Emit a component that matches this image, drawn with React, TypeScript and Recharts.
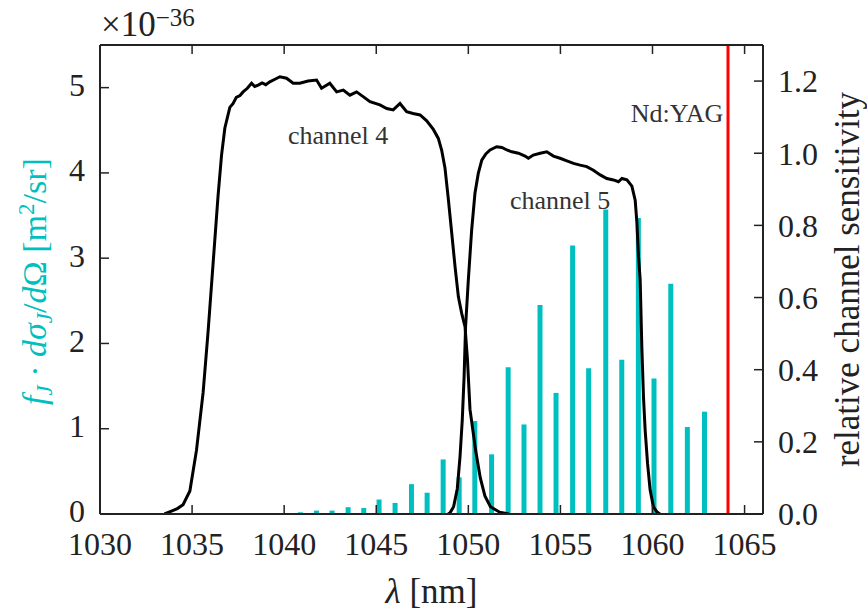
import React from 'react';
import {
  ComposedChart,
  Bar,
  Line,
  XAxis,
  YAxis,
  ReferenceLine,
  ReferenceDot,
  Label,
} from 'recharts';

// rotational Raman lines (anti-Stokes side), strength in units of 1e-36 m^2/sr
const LINE_WAVELENGTHS = [
  1040.89, 1041.76, 1042.61, 1043.48, 1044.33, 1045.16, 1046.03, 1046.92, 1047.77,
  1048.64, 1049.51, 1050.36, 1051.27, 1052.17, 1053.03, 1053.9, 1054.77, 1055.67,
  1056.54, 1057.47, 1058.34, 1059.24, 1060.09, 1061.0, 1061.9, 1062.83,
];
const LINE_STRENGTHS = [
  0.02, 0.04, 0.04, 0.08, 0.07, 0.17, 0.13, 0.35, 0.25, 0.64, 0.43, 1.09, 0.7,
  1.72, 1.05, 2.45, 1.42, 3.15, 1.71, 3.57, 1.81, 3.47, 1.59, 2.7, 1.02, 1.2,
];

const CH4_WAVELENGTHS = [
  1033.5, 1033.88, 1034.2, 1034.51, 1034.88, 1035.24, 1035.6, 1035.87, 1036.14, 1036.41,
  1036.6, 1036.78, 1037.05, 1037.23, 1037.4, 1037.6, 1037.77, 1038.0, 1038.23, 1038.4,
  1038.59, 1038.8, 1039.0, 1039.22, 1039.5, 1039.77, 1040.13, 1040.49, 1040.85, 1041.3,
  1041.76, 1042.03, 1042.48, 1042.85, 1043.21, 1043.57, 1043.93, 1044.29, 1044.66, 1045.2,
  1045.57, 1045.92, 1046.29, 1046.65, 1047.0, 1047.38, 1047.74, 1048.1, 1048.37, 1048.55,
  1048.73, 1048.91, 1049.1, 1049.28, 1049.46, 1049.64, 1049.82, 1049.95, 1050.09, 1050.4,
  1050.65, 1050.9, 1051.2, 1051.7, 1052.2,
];
const CH4_SENSITIVITY = [
  0, 0.008, 0.015, 0.026, 0.064, 0.177, 0.337, 0.506, 0.694, 0.882,
  0.995, 1.07, 1.127, 1.138, 1.155, 1.16, 1.17, 1.18, 1.194, 1.185,
  1.189, 1.195, 1.19, 1.198, 1.205, 1.212, 1.208, 1.194, 1.194, 1.2,
  1.203, 1.18, 1.194, 1.17, 1.175, 1.161, 1.17, 1.157, 1.143, 1.134,
  1.124, 1.12, 1.138, 1.115, 1.11, 1.106, 1.09, 1.066, 1.041, 1.009,
  0.96, 0.875, 0.778, 0.685, 0.602, 0.556, 0.519, 0.43, 0.29, 0.175,
  0.1, 0.05, 0.02, 0.005, 0,
];

const CH5_WAVELENGTHS = [
  1048.9, 1049.0, 1049.2, 1049.4, 1049.55, 1049.67, 1049.77, 1049.85, 1050.0, 1050.18,
  1050.36, 1050.54, 1050.73, 1050.95, 1051.18, 1051.54, 1051.82, 1052.09, 1052.36, 1052.72,
  1053.08, 1053.26, 1053.53, 1053.9, 1054.26, 1054.62, 1054.98, 1055.35, 1055.71, 1056.07,
  1056.43, 1056.79, 1057.16, 1057.52, 1057.88, 1058.15, 1058.34, 1058.61, 1058.88, 1059.06,
  1059.15, 1059.24, 1059.33, 1059.42, 1059.51, 1059.6, 1059.73, 1059.87, 1060.05, 1060.24,
  1060.4,
];
const CH5_SENSITIVITY = [
  0, 0.003, 0.02, 0.07, 0.16, 0.26, 0.38, 0.519, 0.649, 0.787,
  0.889, 0.944, 0.981, 0.998, 1.009, 1.018, 1.016, 1.009, 1.004, 1.0,
  0.992, 0.986, 0.995, 1.0, 1.004, 0.992, 0.986, 0.979, 0.972, 0.967,
  0.963, 0.953, 0.94, 0.93, 0.926, 0.921, 0.93, 0.926, 0.909, 0.87,
  0.81, 0.714, 0.65, 0.464, 0.325, 0.233, 0.141, 0.067, 0.02, 0.006,
  0,
];

const ND_YAG = 1064.1;

const X_TICKS = [1030, 1035, 1040, 1045, 1050, 1055, 1060, 1065];
const LEFT_TICKS = [0, 1, 2, 3, 4, 5];
const RIGHT_TICKS = [0, 0.2, 0.4, 0.6, 0.8, 1.0, 1.2];

const FONT = 'Liberation Serif';
const CYAN = '#00bfbf';
const INK = '#222';

const lineData = LINE_WAVELENGTHS.map((lambda, i) => ({ lambda, strength: LINE_STRENGTHS[i] }));
const ch4Data = CH4_WAVELENGTHS.map((lambda, i) => ({ lambda, r: CH4_SENSITIVITY[i] }));
const ch5Data = CH5_WAVELENGTHS.map((lambda, i) => ({ lambda, r: CH5_SENSITIVITY[i] }));

const tickStyle = { fontFamily: FONT, fontSize: 32, fill: INK };

function LeftTitle({ viewBox }: any) {
  const cx = viewBox.x + 46;
  const cy = viewBox.y + viewBox.height / 2 + 2;
  return (
    <text
      x={cx}
      y={cy}
      transform={`rotate(-90, ${cx}, ${cy})`}
      textAnchor="middle"
      fill={CYAN}
      style={{ fontFamily: FONT, fontSize: 34 }}
    >
      <tspan fontStyle="italic">f</tspan>
      <tspan fontStyle="italic" fontSize={23} dy={6}>J</tspan>
      <tspan dy={-6}> · </tspan>
      <tspan fontStyle="italic">dσ</tspan>
      <tspan fontStyle="italic" fontSize={23} dy={6}>J</tspan>
      <tspan dy={-6}>/</tspan>
      <tspan fontStyle="italic">d</tspan>
      <tspan>Ω [m</tspan>
      <tspan fontSize={23} dy={-12}>2</tspan>
      <tspan dy={12}>/sr]</tspan>
    </text>
  );
}

function RightTitle({ viewBox }: any) {
  const cx = viewBox.x + 96;
  const cy = viewBox.y + viewBox.height / 2;
  return (
    <text
      x={cx}
      y={cy}
      transform={`rotate(-90, ${cx}, ${cy})`}
      textAnchor="middle"
      fill={INK}
      style={{ fontFamily: FONT, fontSize: 35 }}
    >
      relative channel sensitivity
    </text>
  );
}

function BottomTitle({ viewBox }: any) {
  return (
    <text
      x={viewBox.x + viewBox.width / 2}
      y={viewBox.y + 89}
      textAnchor="middle"
      fill={INK}
      style={{ fontFamily: FONT, fontSize: 35 }}
    >
      <tspan fontStyle="italic">λ</tspan> [nm]
    </text>
  );
}

function ScaleNote({ viewBox }: any) {
  return (
    <text x={viewBox.x + 1} y={viewBox.y - 8} fill={INK} style={{ fontFamily: FONT, fontSize: 35 }}>
      ×10
      <tspan fontSize={25} dy={-10}>−36</tspan>
    </text>
  );
}

const noteStyle = { fontFamily: FONT, fontSize: 26, fill: '#333' };

export default function App() {
  return (
    <div
      style={{
        position: 'absolute',
        left: 0,
        top: 0,
        width: 867,
        height: 612,
        background: '#fff',
        fontFamily: FONT,
      }}
    >
      <ComposedChart
        width={867}
        height={612}
        data={lineData}
        margin={{ top: 44, right: 0, bottom: 0, left: 0 }}
      >
        <XAxis
          dataKey="lambda"
          type="number"
          domain={[1030, 1066]}
          allowDataOverflow
          ticks={X_TICKS}
          interval={0}
          height={98}
          tickSize={-9}
          tickMargin={27}
          tick={tickStyle}
          axisLine={{ stroke: INK, strokeWidth: 2 }}
          tickLine={{ stroke: INK, strokeWidth: 1.5 }}
        >
          <Label content={(p: any) => <BottomTitle {...p} />} />
        </XAxis>
        <XAxis
          xAxisId="top"
          orientation="top"
          dataKey="lambda"
          type="number"
          domain={[1030, 1066]}
          allowDataOverflow
          ticks={X_TICKS}
          interval={0}
          height={1}
          tickSize={-9}
          tickFormatter={() => ''}
          axisLine={{ stroke: INK, strokeWidth: 2 }}
          tickLine={{ stroke: INK, strokeWidth: 1.5 }}
        >
          <Label content={(p: any) => <ScaleNote {...p} />} />
        </XAxis>
        <YAxis
          yAxisId="left"
          domain={[0, 5.5]}
          allowDataOverflow
          ticks={LEFT_TICKS}
          interval={0}
          width={100}
          tickSize={-9}
          tickMargin={24}
          tick={{ ...tickStyle, dy: -3 }}
          axisLine={{ stroke: INK, strokeWidth: 2 }}
          tickLine={{ stroke: INK, strokeWidth: 1.5 }}
        >
          <Label content={(p: any) => <LeftTitle {...p} />} />
        </YAxis>
        <YAxis
          yAxisId="right"
          orientation="right"
          domain={[0, 1.3]}
          allowDataOverflow
          ticks={RIGHT_TICKS}
          interval={0}
          width={104}
          tickSize={-9}
          tickMargin={24}
          tick={tickStyle}
          tickFormatter={(v: number) => v.toFixed(1)}
          axisLine={{ stroke: INK, strokeWidth: 2 }}
          tickLine={{ stroke: INK, strokeWidth: 1.5 }}
        >
          <Label content={(p: any) => <RightTitle {...p} />} />
        </YAxis>

        <Bar
          yAxisId="left"
          dataKey="strength"
          fill={CYAN}
          barSize={5}
          isAnimationActive={false}
        />
        <Line
          xAxisId="top"
          yAxisId="right"
          data={ch4Data}
          dataKey="r"
          type="linear"
          stroke="#000"
          strokeWidth={3}
          dot={false}
          isAnimationActive={false}
        />
        <Line
          xAxisId="top"
          yAxisId="right"
          data={ch5Data}
          dataKey="r"
          type="linear"
          stroke="#000"
          strokeWidth={3}
          dot={false}
          isAnimationActive={false}
        />
        <ReferenceLine yAxisId="right" x={ND_YAG} stroke="#ff0000" strokeWidth={3} />

        <ReferenceDot
          yAxisId="right"
          x={1042.93}
          y={1.05}
          r={1}
          fill="none"
          stroke="none"
          label={{ value: 'channel 4', position: 'center', style: noteStyle }}
        />
        <ReferenceDot
          yAxisId="right"
          x={1054.98}
          y={0.87}
          r={1}
          fill="none"
          stroke="none"
          label={{ value: 'channel 5', position: 'center', style: noteStyle }}
        />
        <ReferenceDot
          yAxisId="right"
          x={1061.33}
          y={1.111}
          r={1}
          fill="none"
          stroke="none"
          label={{ value: 'Nd:YAG', position: 'center', style: noteStyle }}
        />
      </ComposedChart>
    </div>
  );
}
